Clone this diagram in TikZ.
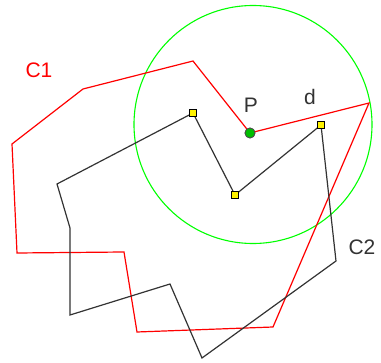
\documentclass[tikz,border=0pt]{standalone}
\usepackage{fontspec}
\setmainfont{Liberation Sans}
\begin{document}
\begin{tikzpicture}[x=1pt, y=-1pt,
    vertex/.style={draw=black, fill=yellow, minimum size=7pt, inner sep=0pt, line width=0.8pt},
    dot/.style={circle, draw=black!70, fill=green!75!black, minimum size=10pt, inner sep=0pt, line width=0.8pt},
    tag/.style={font=\fontsize{21}{25}\selectfont}]
    \useasboundingbox (0,0) rectangle (381,363);

    % Search circle around P
    \draw[green, line width=1.1pt] (253,124.5) circle[radius=119];

    % Polygon C1 (red)
    \coordinate (a1) at (193,61);
    \coordinate (a2) at (83,89);
    \coordinate (a3) at (12,144);
    \coordinate (a4) at (17,253);
    \coordinate (a5) at (124,252);
    \coordinate (a6) at (137,332);
    \coordinate (a7) at (273,327);
    \coordinate (a8) at (369,103);
    \node[dot] (p) at (250,133) {};
    \draw[red, line width=1.2pt] (a1) -- (a2) -- (a3) -- (a4) -- (a5) -- (a6) -- (a7) -- (a8) -- (p.center) -- cycle;

    % Polygon C2 (black)
    \coordinate (b1) at (193,113);
    \coordinate (b2) at (235,195);
    \coordinate (b3) at (321,125);
    \coordinate (b4) at (336,261);
    \coordinate (b5) at (202,358);
    \coordinate (b6) at (170,284);
    \coordinate (b7) at (70,315);
    \coordinate (b8) at (70,228);
    \coordinate (b9) at (57,184);
    \draw[black!80, line width=1.2pt] (b1) -- (b2) -- (b3) -- (b4) -- (b5) -- (b6) -- (b7) -- (b8) -- (b9) -- cycle;

    % Closest vertices
    \foreach \v in {b1,b2,b3}
        \node[vertex] at (\v) {};
    \node[dot] at (p) {};

    % Labels
    \node[red, tag] (c1) at (39,70.5) {C1};
    \node[black!80, tag] (plabel) at (251,105) {P};
    \node[black!80, tag] (dlabel) at (310,96.5) {d};
    \node[black!80, tag] (c2) at (362,247.5) {C2};
\end{tikzpicture}
\end{document}
